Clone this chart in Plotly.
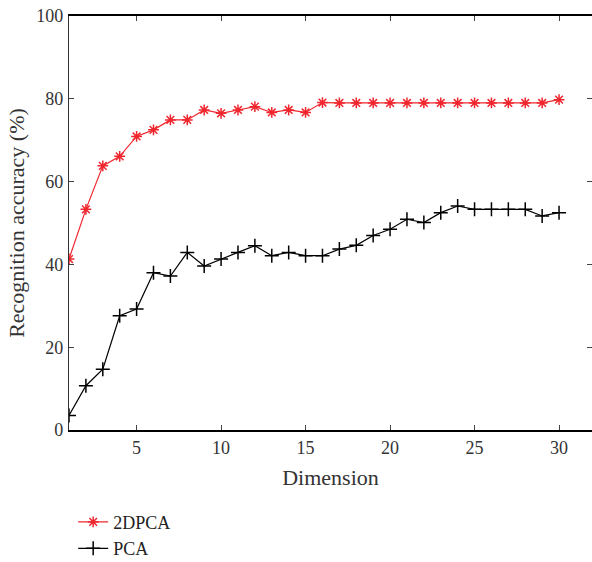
import plotly.graph_objects as go

dims = list(range(1, 31))
acc_2dpca = [41.3, 53.3, 63.8, 66.1, 70.9, 72.5, 74.9, 74.9, 77.3, 76.5,
             77.3, 78.1, 76.7, 77.3, 76.7, 79.1, 79.0, 79.0, 79.0, 79.0,
             79.0, 79.0, 79.0, 79.0, 79.0, 79.0, 79.0, 79.0, 79.0, 79.8]
acc_pca = [3.5, 10.7, 14.7, 27.6, 29.2, 38.0, 37.2, 42.9, 39.6, 41.3,
           42.9, 44.5, 42.1, 42.9, 42.1, 42.1, 43.7, 44.6, 47.0, 48.5,
           50.9, 50.1, 52.5, 54.1, 53.3, 53.3, 53.3, 53.3, 51.7, 52.5]
x_ticks = [5, 10, 15, 20, 25, 30]
y_ticks = [0, 20, 40, 60, 80, 100]

RED = "#f0262e"
FONT = "Liberation Serif, DejaVu Serif, serif"

fig = go.Figure()
fig.add_trace(go.Scatter(
    x=dims, y=acc_2dpca, name="2DPCA", mode="lines+markers",
    line=dict(color=RED, width=1.2),
    marker=dict(symbol="asterisk-open", size=9, color=RED,
                line=dict(color=RED, width=1.5)),
))
fig.add_trace(go.Scatter(
    x=dims, y=acc_pca, name="PCA", mode="lines+markers",
    line=dict(color="black", width=1.2),
    marker=dict(symbol="cross-thin-open", size=10, color="black",
                line=dict(color="black", width=1.5)),
))

fig.update_layout(
    width=592, height=562,
    margin=dict(l=69, r=0, t=16, b=132, autoexpand=False),
    paper_bgcolor="white", plot_bgcolor="white",
    font=dict(family=FONT, size=18, color="#333333"),
    showlegend=True,
    legend=dict(x=0.008, xanchor="left", y=-0.178, yanchor="top",
                orientation="v", font=dict(size=18, color="#222222"),
                bgcolor="rgba(0,0,0,0)", tracegroupgap=0, itemwidth=30),
)
fig.update_xaxes(
    range=[1, 31.95], tickvals=x_ticks, ticks="inside", ticklen=5,
    showline=True, linecolor="black", linewidth=2, mirror="ticks",
    showgrid=False, zeroline=False, automargin=False,
    ticklabeloverflow="allow",
    title=dict(text="Dimension", standoff=13),
    tickfont=dict(size=18, color="#333333"),
)
fig.update_yaxes(
    range=[0, 100], tickvals=y_ticks, ticks="inside", ticklen=5,
    showline=True, linecolor="#333333", linewidth=1.2, mirror="ticks",
    showgrid=False, zeroline=False, automargin=False,
    ticklabelstandoff=1, ticklabeloverflow="allow",
    title=dict(text="Recognition accuracy (%)", standoff=5),
    tickfont=dict(size=18, color="#333333"),
)

fig.write_html("out.html",
               config={"displayModeBar": False},
               post_script="document.body.style.margin='0';")
